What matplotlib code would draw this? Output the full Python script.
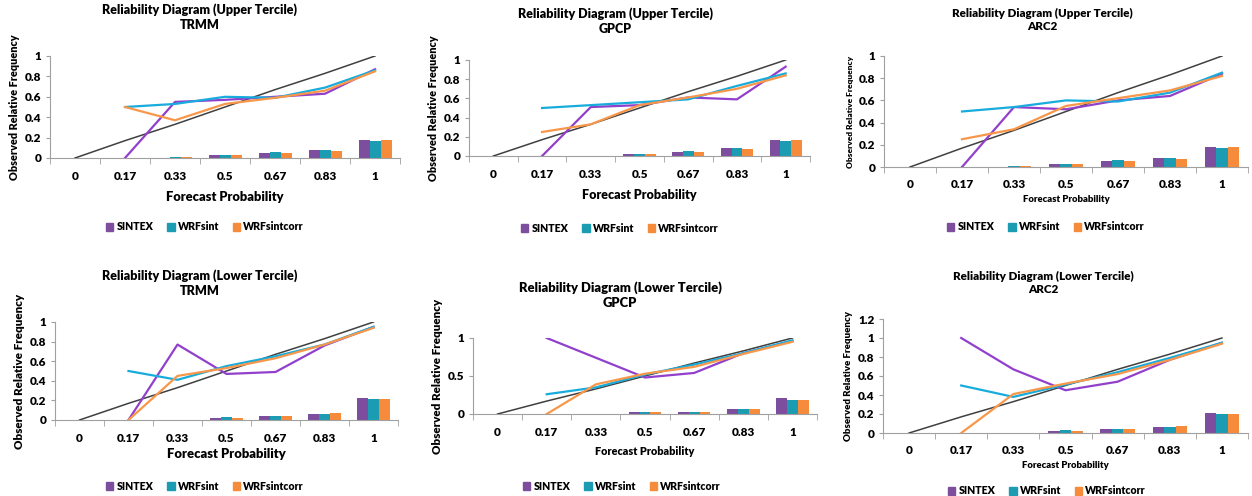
import numpy as np
import matplotlib
matplotlib.use('Agg')
import matplotlib.pyplot as plt
from matplotlib.patches import Patch

plt.rcParams['font.family'] = ['Lato', 'DejaVu Sans']
plt.rcParams['font.weight'] = 'heavy'

categories = ['0', '0.17', '0.33', '0.5', '0.67', '0.83', '1']
diagonal = [0, 0.17, 0.33, 0.5, 0.67, 0.83, 1.0]
nan = np.nan

# upper tercile
up_trmm_sintex = [nan, 0.0, 0.55, 0.57, 0.60, 0.63, 0.87]
up_trmm_wrf = [nan, 0.50, 0.53, 0.60, 0.59, 0.69, 0.86]
up_trmm_corr = [nan, 0.50, 0.37, 0.53, 0.59, 0.66, 0.85]
up_trmm_bars = [[0, 0, 0, 0.03, 0.05, 0.08, 0.18],
                [0, 0, 0.01, 0.03, 0.06, 0.08, 0.17],
                [0, 0, 0.01, 0.03, 0.05, 0.07, 0.18]]

up_gpcp_sintex = [nan, 0.0, 0.51, 0.53, 0.61, 0.59, 0.93]
up_gpcp_wrf = [nan, 0.50, 0.53, 0.56, 0.59, 0.73, 0.86]
up_gpcp_corr = [nan, 0.25, 0.33, 0.53, 0.61, 0.70, 0.84]
up_gpcp_bars = [[0, 0, 0, 0.02, 0.04, 0.08, 0.17],
                [0, 0, 0, 0.02, 0.05, 0.08, 0.16],
                [0, 0, 0, 0.02, 0.04, 0.07, 0.17]]

up_arc2_sintex = [nan, 0.0, 0.54, 0.52, 0.60, 0.64, 0.84]
up_arc2_wrf = [nan, 0.50, 0.54, 0.60, 0.59, 0.67, 0.85]
up_arc2_corr = [nan, 0.25, 0.34, 0.55, 0.62, 0.69, 0.82]
up_arc2_bars = [[0, 0, 0, 0.03, 0.05, 0.08, 0.18],
                [0, 0, 0.01, 0.03, 0.06, 0.08, 0.17],
                [0, 0, 0.01, 0.03, 0.05, 0.07, 0.18]]

# lower tercile
lo_trmm_sintex = [nan, 0.0, 0.77, 0.47, 0.49, 0.76, 0.95]
lo_trmm_wrf = [nan, 0.50, 0.41, 0.55, 0.65, 0.77, 0.95]
lo_trmm_corr = [nan, 0.0, 0.45, 0.53, 0.63, 0.77, 0.94]
lo_trmm_bars = [[0, 0, 0, 0.02, 0.04, 0.06, 0.22],
                [0, 0, 0, 0.03, 0.04, 0.06, 0.21],
                [0, 0, 0, 0.02, 0.04, 0.07, 0.21]]

lo_gpcp_sintex = [nan, 1.0, 0.74, 0.48, 0.54, 0.80, 0.96]
lo_gpcp_wrf = [nan, 0.26, 0.35, 0.52, 0.65, 0.80, 0.97]
lo_gpcp_corr = [nan, 0.0, 0.39, 0.53, 0.62, 0.79, 0.95]
lo_gpcp_bars = [[0, 0, 0, 0.02, 0.03, 0.06, 0.21],
                [0, 0, 0, 0.03, 0.03, 0.06, 0.19],
                [0, 0, 0, 0.02, 0.03, 0.06, 0.19]]

lo_arc2_sintex = [nan, 1.0, 0.67, 0.45, 0.54, 0.77, 0.95]
lo_arc2_wrf = [nan, 0.50, 0.38, 0.51, 0.64, 0.79, 0.95]
lo_arc2_corr = [nan, 0.0, 0.41, 0.52, 0.62, 0.77, 0.94]
lo_arc2_bars = [[0, 0, 0, 0.02, 0.04, 0.06, 0.21],
                [0, 0, 0, 0.03, 0.04, 0.06, 0.20],
                [0, 0, 0, 0.02, 0.04, 0.07, 0.20]]

names = ['SINTEX', 'WRFsint', 'WRFsintcorr']
bar_cols = ['#7D4E9E', '#1C9CB3', '#F68B3C']
line_cols = ['#9240CC', '#18ACDD', '#F8974A']

W, H = 1252, 496
fig = plt.figure(figsize=(W / 100, H / 100), dpi=100)

# per panel: axes box in px [x0, x1, ytop, ybot], ymax, yticks,
# title centre, title size, legend centre, xlabel size, ylabel size, xlabel pad
panels = [
    ('Upper', 'TRMM', up_trmm_sintex, up_trmm_wrf, up_trmm_corr, up_trmm_bars,
     [50, 400, 56, 158], 1.0, np.arange(0, 1.01, 0.2), (200, 17), 9, (205, 227), 9.3, 7.8, 7),
    ('Upper', 'GPCP', up_gpcp_sintex, up_gpcp_wrf, up_gpcp_corr, up_gpcp_bars,
     [469, 810, 60, 156], 1.0, np.arange(0, 1.01, 0.2), (615, 21), 9, (620, 228), 9.0, 7.8, 7),
    ('Upper', 'ARC2', up_arc2_sintex, up_arc2_wrf, up_arc2_corr, up_arc2_bars,
     [884, 1248, 56, 167], 1.0, np.arange(0, 1.01, 0.2), (1042, 20), 8.4, (1046, 227), 6.8, 6.0, 3),
    ('Lower', 'TRMM', lo_trmm_sintex, lo_trmm_wrf, lo_trmm_corr, lo_trmm_bars,
     [55, 398, 322, 420], 1.0, np.arange(0, 1.01, 0.2), (200, 283), 9, (205, 486), 9.4, 8.4, 3),
    ('Lower', 'GPCP', lo_gpcp_sintex, lo_gpcp_wrf, lo_gpcp_corr, lo_gpcp_bars,
     [473, 817, 338, 414], 1.0, [0, 0.5, 1], (620, 295), 9.4, (622, 486), 7.8, 8.4, 6),
    ('Lower', 'ARC2', lo_arc2_sintex, lo_arc2_wrf, lo_arc2_corr, lo_arc2_bars,
     [883, 1248, 319, 433], 1.2, np.arange(0, 1.21, 0.2), (1043, 283), 8.4, (1047, 491), 6.8, 7.0, 3),
]

x = np.arange(len(categories))
bw = 0.22

for (tercile, src, s1, s2, s3, bars, box, ymax, yt, tpos, tsize, lpos,
     xls, yls, xpad) in panels:
    x0, x1, yt0, yb0 = box
    ax = fig.add_axes([x0 / W, 1 - yb0 / H, (x1 - x0) / W, (yb0 - yt0) / H])
    handles = []
    for i, vals in enumerate(bars):
        ax.bar(x + (i - 1) * bw, vals, width=bw, color=bar_cols[i], zorder=2)
        handles.append(Patch(color=bar_cols[i], label=names[i]))
    ax.plot(x, diagonal, color='#404040', lw=1.1, zorder=3)
    for i, s in enumerate([s1, s2, s3]):
        ax.plot(x, s, color=line_cols[i], lw=1.6, zorder=4)
    ax.set_xlim(-0.5, len(categories) - 0.5)
    ax.set_ylim(0, ymax)
    ax.set_yticks(yt)
    ax.set_yticklabels(['%g' % v for v in yt], fontsize=8.5, fontweight='heavy')
    ax.set_xticks(x)
    ax.set_xticklabels(categories, fontsize=8.5, fontweight='heavy')
    ax.set_xticks(np.arange(-0.5, len(categories)), minor=True)
    ax.tick_params(axis='x', which='major', length=0, pad=9)
    ax.tick_params(axis='x', which='minor', length=4, color='#A0A0A0')
    ax.tick_params(axis='y', length=3, color='#A0A0A0', pad=3)
    for sp in ['top', 'right']:
        ax.spines[sp].set_visible(False)
    for sp in ['left', 'bottom']:
        ax.spines[sp].set_color('#A0A0A0')
        ax.spines[sp].set_linewidth(0.8)
    ax.set_xlabel('Forecast Probability', fontsize=xls, fontweight='heavy', labelpad=xpad)
    ax.set_ylabel('Observed Relative Frequency', fontsize=yls, fontweight='heavy', labelpad=4)
    fig.text(tpos[0] / W, 1 - tpos[1] / H,
             'Reliability Diagram (%s Tercile)\n%s' % (tercile, src),
             ha='center', va='center', fontsize=tsize, fontweight='heavy',
             linespacing=1.3)
    fig.legend(handles=handles, loc='center', ncol=3, frameon=False,
               bbox_to_anchor=(lpos[0] / W, 1 - lpos[1] / H),
               handlelength=0.7, handleheight=0.7,
               handletextpad=0.3, columnspacing=1.3,
               prop={'weight': 'heavy', 'size': 7.6})

fig.savefig('out.png', dpi=100)
